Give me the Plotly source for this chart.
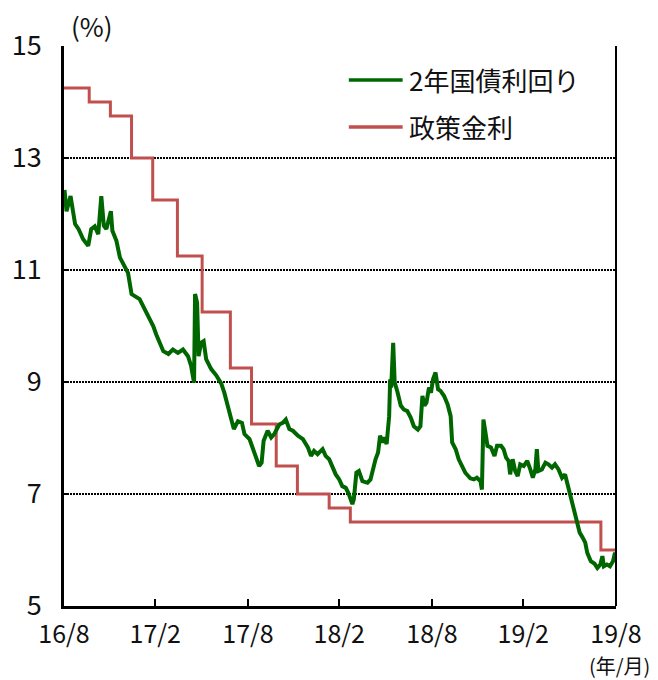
import plotly.graph_objects as go

# 2年国債利回り (%)
bond_dates = [
    "2016-09-01", "2016-09-05", "2016-09-13", "2016-09-22", "2016-09-29", "2016-10-08",
    "2016-10-18", "2016-10-24", "2016-10-31", "2016-11-07", "2016-11-13", "2016-11-18",
    "2016-11-23", "2016-12-02", "2016-12-05", "2016-12-13", "2016-12-20", "2016-12-27",
    "2017-01-05", "2017-01-12", "2017-01-21", "2017-01-28", "2017-02-07", "2017-02-17",
    "2017-02-24", "2017-03-02", "2017-03-09", "2017-03-16", "2017-03-26", "2017-04-04",
    "2017-04-14", "2017-04-24", "2017-05-04", "2017-05-10", "2017-05-16", "2017-05-18",
    "2017-05-22", "2017-05-25", "2017-05-30", "2017-06-04", "2017-06-09", "2017-06-19",
    "2017-06-29", "2017-07-09", "2017-07-15", "2017-07-22", "2017-07-28", "2017-08-03",
    "2017-08-11", "2017-08-19", "2017-08-24", "2017-09-03", "2017-09-09", "2017-09-16",
    "2017-09-22", "2017-09-27", "2017-10-01", "2017-10-09", "2017-10-16", "2017-10-22",
    "2017-11-01", "2017-11-08", "2017-11-14", "2017-11-21", "2017-11-28", "2017-12-08",
    "2017-12-18", "2017-12-28", "2018-01-03", "2018-01-09", "2018-01-16", "2018-01-26",
    "2018-02-01", "2018-02-08", "2018-02-15", "2018-02-21", "2018-02-28", "2018-03-06",
    "2018-03-13", "2018-03-19", "2018-03-26", "2018-03-29", "2018-04-03", "2018-04-08",
    "2018-04-15", "2018-04-25", "2018-05-01", "2018-05-08", "2018-05-11", "2018-05-16",
    "2018-05-20", "2018-05-25", "2018-05-28", "2018-06-02", "2018-06-07", "2018-06-09",
    "2018-06-11", "2018-06-15", "2018-06-18", "2018-06-23", "2018-06-30", "2018-07-06",
    "2018-07-13", "2018-07-20", "2018-07-26", "2018-08-03", "2018-08-08", "2018-08-12",
    "2018-08-16", "2018-08-20", "2018-08-25", "2018-08-29", "2018-09-02", "2018-09-07",
    "2018-09-12", "2018-09-17", "2018-09-24", "2018-10-01", "2018-10-07", "2018-10-10",
    "2018-10-17", "2018-10-23", "2018-10-30", "2018-11-05", "2018-11-15", "2018-11-22",
    "2018-11-28", "2018-12-05", "2018-12-08", "2018-12-11", "2018-12-15", "2018-12-19",
    "2018-12-26", "2019-01-02", "2019-01-07", "2019-01-15", "2019-01-20", "2019-01-25",
    "2019-01-30", "2019-02-02", "2019-02-07", "2019-02-12", "2019-02-17", "2019-02-22",
    "2019-03-01", "2019-03-08", "2019-03-14", "2019-03-19", "2019-03-24", "2019-03-27",
    "2019-03-30", "2019-04-06", "2019-04-13", "2019-04-19", "2019-04-26", "2019-05-02",
    "2019-05-09", "2019-05-16", "2019-05-22", "2019-05-27", "2019-05-31", "2019-06-05",
    "2019-06-09", "2019-06-15", "2019-06-20", "2019-06-26", "2019-07-01", "2019-07-05",
    "2019-07-12", "2019-07-19", "2019-07-25", "2019-07-31", "2019-08-04", "2019-08-07",
    "2019-08-13", "2019-08-19", "2019-08-25", "2019-08-29", "2019-08-31",
]
bond_yield = [
    12.43, 12.05, 12.32, 11.82, 11.73, 11.55,
    11.43, 11.73, 11.78, 11.64, 12.32, 11.79,
    11.73, 12.05, 11.70, 11.52, 11.22, 11.10,
    10.95, 10.57, 10.51, 10.48, 10.30, 10.12,
    10.00, 9.85, 9.70, 9.55, 9.50, 9.58,
    9.52, 9.58, 9.46, 9.29, 8.99, 10.57,
    10.42, 9.46, 9.70, 9.73, 9.41, 9.23,
    9.12, 8.97, 8.81, 8.54, 8.36, 8.16,
    8.30, 8.27, 8.07, 7.98, 7.83, 7.68,
    7.50, 7.56, 7.95, 8.13, 8.01, 8.07,
    8.24, 8.27, 8.33, 8.16, 8.13, 8.04,
    7.98, 7.83, 7.68, 7.77, 7.71, 7.80,
    7.68, 7.62, 7.47, 7.35, 7.26, 7.14,
    7.11, 7.00, 6.82, 6.91, 7.38, 7.41,
    7.23, 7.20, 7.26, 7.56, 7.62, 7.74,
    8.04, 7.92, 8.01, 7.89, 8.39, 9.05,
    8.90, 9.70, 8.99, 8.84, 8.58, 8.51,
    8.48, 8.36, 8.21, 8.15, 8.21, 8.75,
    8.58, 8.63, 8.90, 8.81, 9.05, 9.17,
    8.87, 8.84, 8.75, 8.60, 8.39, 7.92,
    7.80, 7.62, 7.47, 7.38, 7.28, 7.26,
    7.29, 7.23, 7.08, 8.33, 8.10, 7.86,
    7.83, 7.68, 7.86, 7.86, 7.80, 7.65,
    7.59, 7.35, 7.62, 7.41, 7.32, 7.53,
    7.50, 7.59, 7.44, 7.29, 7.44, 7.80,
    7.41, 7.44, 7.56, 7.53, 7.47, 7.53,
    7.44, 7.29, 7.35, 7.17, 6.96, 6.79,
    6.67, 6.46, 6.31, 6.22, 6.13, 5.95,
    5.80, 5.76, 5.68, 5.74, 5.89, 5.71,
    5.74, 5.71, 5.80, 5.95, 5.89,
]

# 政策金利 (%), step changes
policy_dates = [
    "2016-08-31", "2016-10-20", "2016-12-01", "2017-01-12", "2017-02-23",
    "2017-04-13", "2017-06-01", "2017-07-27", "2017-09-07", "2017-10-26",
    "2017-12-07", "2018-02-08", "2018-03-22", "2019-08-01", "2019-08-31",
]
policy_rate = [
    14.25, 14.00, 13.75, 13.00, 12.25,
    11.25, 10.25, 9.25, 8.25, 7.50,
    7.00, 6.75, 6.50, 6.00, 6.00,
]

x_tick_vals = ["2016-08-31", "2017-02-28", "2017-08-31", "2018-02-28",
               "2018-08-31", "2019-02-28", "2019-08-31"]
x_tick_text = ["16/8", "17/2", "17/8", "18/2", "18/8", "19/2", "19/8"]
y_tick_vals = [5, 7, 9, 11, 13, 15]

series_names = ["2年国債利回り", "政策金利"]
GREEN = "#006600"
RED = "#C0504D"
FONT = "Noto Sans CJK JP"

fig = go.Figure()
fig.add_trace(go.Scatter(x=policy_dates, y=policy_rate, mode="lines",
                         line=dict(color=RED, width=3, shape="hv"),
                         name=series_names[1], showlegend=False))
fig.add_trace(go.Scatter(x=bond_dates, y=bond_yield, mode="lines",
                         line=dict(color=GREEN, width=4),
                         name=series_names[0], showlegend=False))

# manual legend
legend_rows = [(0.9394, GREEN, series_names[0]), (0.8555, RED, series_names[1])]
shapes = []
annotations = []
for yy, col, name in legend_rows:
    shapes.append(dict(type="line", xref="paper", yref="paper",
                       x0=0.516, x1=0.6135, y0=yy, y1=yy,
                       line=dict(color=col, width=3.5)))
    annotations.append(dict(xref="paper", yref="paper", x=0.622, y=yy,
                            xanchor="left", yanchor="middle", text=name,
                            showarrow=False, font=dict(size=26, color="#111", family=FONT)))

# right border
shapes.append(dict(type="line", xref="paper", yref="paper", x0=1, x1=1, y0=0, y1=1,
                   line=dict(color="black", width=2)))

annotations.append(dict(xref="paper", yref="paper", x=0.05, y=1.0, yshift=21,
                        xanchor="center", yanchor="middle", text="(%)",
                        showarrow=False, font=dict(size=26, color="#111", family=FONT)))
annotations.append(dict(xref="paper", yref="paper", x=1.0, y=0, yshift=-59, xshift=36,
                        xanchor="right", yanchor="middle", text="(年/月)",
                        showarrow=False, font=dict(size=20, color="#111", family=FONT)))

fig.update_layout(
    width=658, height=680,
    margin=dict(l=62, r=42, t=46, b=74),
    paper_bgcolor="white", plot_bgcolor="white",
    font=dict(family=FONT, size=26, color="#111"),
    shapes=shapes, annotations=annotations,
    showlegend=False,
)
fig.update_xaxes(
    type="date", range=["2016-08-31", "2019-08-31"],
    tickvals=x_tick_vals, ticktext=x_tick_text,
    ticks="inside", ticklen=7, tickwidth=1.5, tickcolor="black",
    showline=True, linecolor="black", linewidth=2.5,
    showgrid=False, zeroline=False, ticklabelstandoff=4,
    tickfont=dict(size=25, family=FONT, color="#111"),
)
fig.update_yaxes(
    range=[5, 15], tickvals=y_tick_vals,
    ticks="inside", ticklen=5, tickwidth=1.5, tickcolor="black",
    showline=True, linecolor="black", linewidth=2.5,
    showgrid=True, gridcolor="black", gridwidth=1.5, griddash="1.5px,1.5px",
    zeroline=False, ticklabelstandoff=14,
    tickfont=dict(size=27, family=FONT, color="#111"),
)

fig.write_html("out.html")
